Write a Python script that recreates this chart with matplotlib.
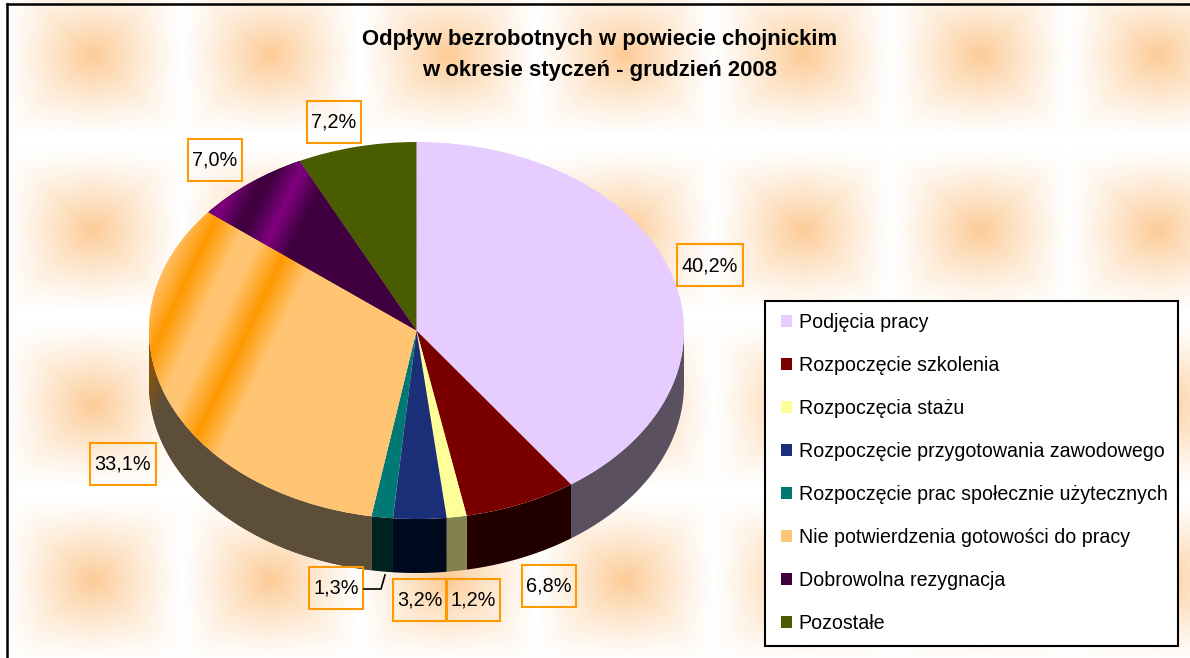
import numpy as np
import matplotlib
matplotlib.use('Agg')
import matplotlib.pyplot as plt
from matplotlib.patches import Rectangle, Patch, Polygon
from matplotlib.colors import to_rgb
from matplotlib.transforms import Affine2D

plt.rcParams['font.family'] = ['Liberation Sans', 'DejaVu Sans']

title = 'Odpływ bezrobotnych w powiecie chojnickim\nw okresie styczeń - grudzień 2008'
categories = ['Podjęcia pracy', 'Rozpoczęcie szkolenia', 'Rozpoczęcia stażu',
              'Rozpoczęcie przygotowania zawodowego', 'Rozpoczęcie prac społecznie użytecznych',
              'Nie potwierdzenia gotowości do pracy', 'Dobrowolna rezygnacja', 'Pozostałe']
values = [40.2, 6.8, 1.2, 3.2, 1.3, 33.1, 7.0, 7.2]
labels = ['40,2%', '6,8%', '1,2%', '3,2%', '1,3%', '33,1%', '7,0%', '7,2%']

top_colors = ['#E6CCFF', '#7A0000', '#FFFF99', '#1A2F78', '#007873', '#FFC573', '#400040', '#4A5C00']
side_colors = ['#5A5060', '#230000', '#82824F', '#000A1E', '#002320', '#5D4E3A', '#200020', '#252E00']
label_x = [710, 549, 473, 420, 336, 123, 215, 334]
label_y = [265, 586, 600, 600, 588, 464, 160, 122]

# pie geometry in pixels
cx, cy, rx, ry, depth = 416.5, 330.5, 267.5, 188.5, 54
W, H = 1190, 658

fig = plt.figure(figsize=(W / 100, H / 100), dpi=100, facecolor='white')
ax = fig.add_axes([0, 0, 1, 1])

# tiled peach background, square pyramids softened at the corners
xx, yy = np.meshgrid(np.arange(W) + 0.5, np.arange(H) + 0.5)
dx = np.abs((xx - 93 + 88.75) % 177.5 - 88.75)
dy = np.abs((yy - 55 + 87.5) % 175 - 87.5)
fx = np.clip(1 - dx / 88, 0, 1)
fy = np.clip(1 - dy / 80, 0, 1)
v = 0.5 * np.minimum(fx, fy) ** 1.3 + 0.5 * (fx * fy) ** 0.9
peach = np.array([253, 203, 150]) / 255
bg = np.ones((H, W, 3)) + v[..., None] * (peach - 1)
ax.imshow(bg, extent=(0, W, H, 0), aspect='auto', zorder=0)

pie_tf = Affine2D().scale(rx, -ry).translate(cx, cy) + ax.transData
wedges, _ = ax.pie(values, colors=top_colors, startangle=90, counterclock=False, radius=1,
                   frame=False, wedgeprops={'linewidth': 0})
for w in wedges:
    w.set_transform(pie_tf)
    w.set_zorder(3)


def stripes(base, band, centres, width, clip):
    # diagonal glossy bands, same slope on every slice
    u = xx + 0.48 * (yy - 263)
    a = np.zeros_like(u)
    for c in centres:
        a = np.maximum(a, np.clip(1 - np.abs(u - c) / width, 0, 1))
    img = np.array(to_rgb(base)) + a[..., None] * (np.array(to_rgb(band)) - np.array(to_rgb(base)))
    im = ax.imshow(img, extent=(0, W, H, 0), aspect='auto', zorder=clip.get_zorder() + 0.1)
    im.set_clip_path(clip)


# rim, only the front half of the pie shows
edges = np.cumsum([0] + values) / 100 * 360
for i, c in enumerate(side_colors):
    a0, a1 = max(edges[i], 90), min(edges[i + 1], 270)
    if a1 <= a0:
        continue
    t = np.radians(np.linspace(a0, a1, 120))
    px = cx + rx * np.sin(t)
    py = cy - ry * np.cos(t)
    pts = np.r_[np.c_[px, py], np.c_[px, py + depth][::-1]]
    poly = Polygon(pts, closed=True, facecolor=c, edgecolor='none', zorder=2)
    ax.add_patch(poly)
    if i == 5:
        stripes(c, '#8A5408', [200], 30, poly)

stripes(top_colors[5], '#FF9900', [195, 280], 32, wedges[5])
stripes(top_colors[6], '#800080', [194, 257], 26, wedges[6])

# value labels
for x, y, s in zip(label_x, label_y, labels):
    bw = 66 if len(s) == 5 else 54
    ax.add_patch(Rectangle((x - bw / 2, y - 21), bw, 42, facecolor='none', edgecolor='#FF9900',
                           linewidth=1.5, zorder=5))
    ax.text(x, y + 0.5, s, ha='center', va='center', fontsize=14.3, color='black', zorder=6)
ax.plot([364, 381, 385], [589, 589, 575], color='black', lw=1.2, zorder=5)

ax.text(600, 55, title, ha='center', va='center', fontsize=15.9, fontweight='bold',
        linespacing=1.66, zorder=6)

# legend box drawn apart so the entries can sit inside it freely
ax.add_patch(Rectangle((765, 301), 413, 345, facecolor='white', edgecolor='black', linewidth=1.5, zorder=5))
handles = [Patch(facecolor=c, edgecolor='none') for c in top_colors]
leg = ax.legend(handles, categories, loc='upper left', bbox_to_anchor=(769, 301),
                bbox_transform=ax.transData, borderaxespad=0, fontsize=14.15,
                labelspacing=1.22, borderpad=0.62, handlelength=0.55, handleheight=0.55, handletextpad=0.35,
                frameon=False)
leg.set_zorder(6)

# outer chart frame
ax.plot([7, 7], [H, 4], color='black', lw=1.8, zorder=7)
ax.plot([7, W], [4, 4], color='black', lw=1.8, zorder=7)

ax.set_aspect('auto')
ax.set_xlim(0, W)
ax.set_ylim(H, 0)
ax.axis('off')
fig.savefig('out.png', dpi=100)
